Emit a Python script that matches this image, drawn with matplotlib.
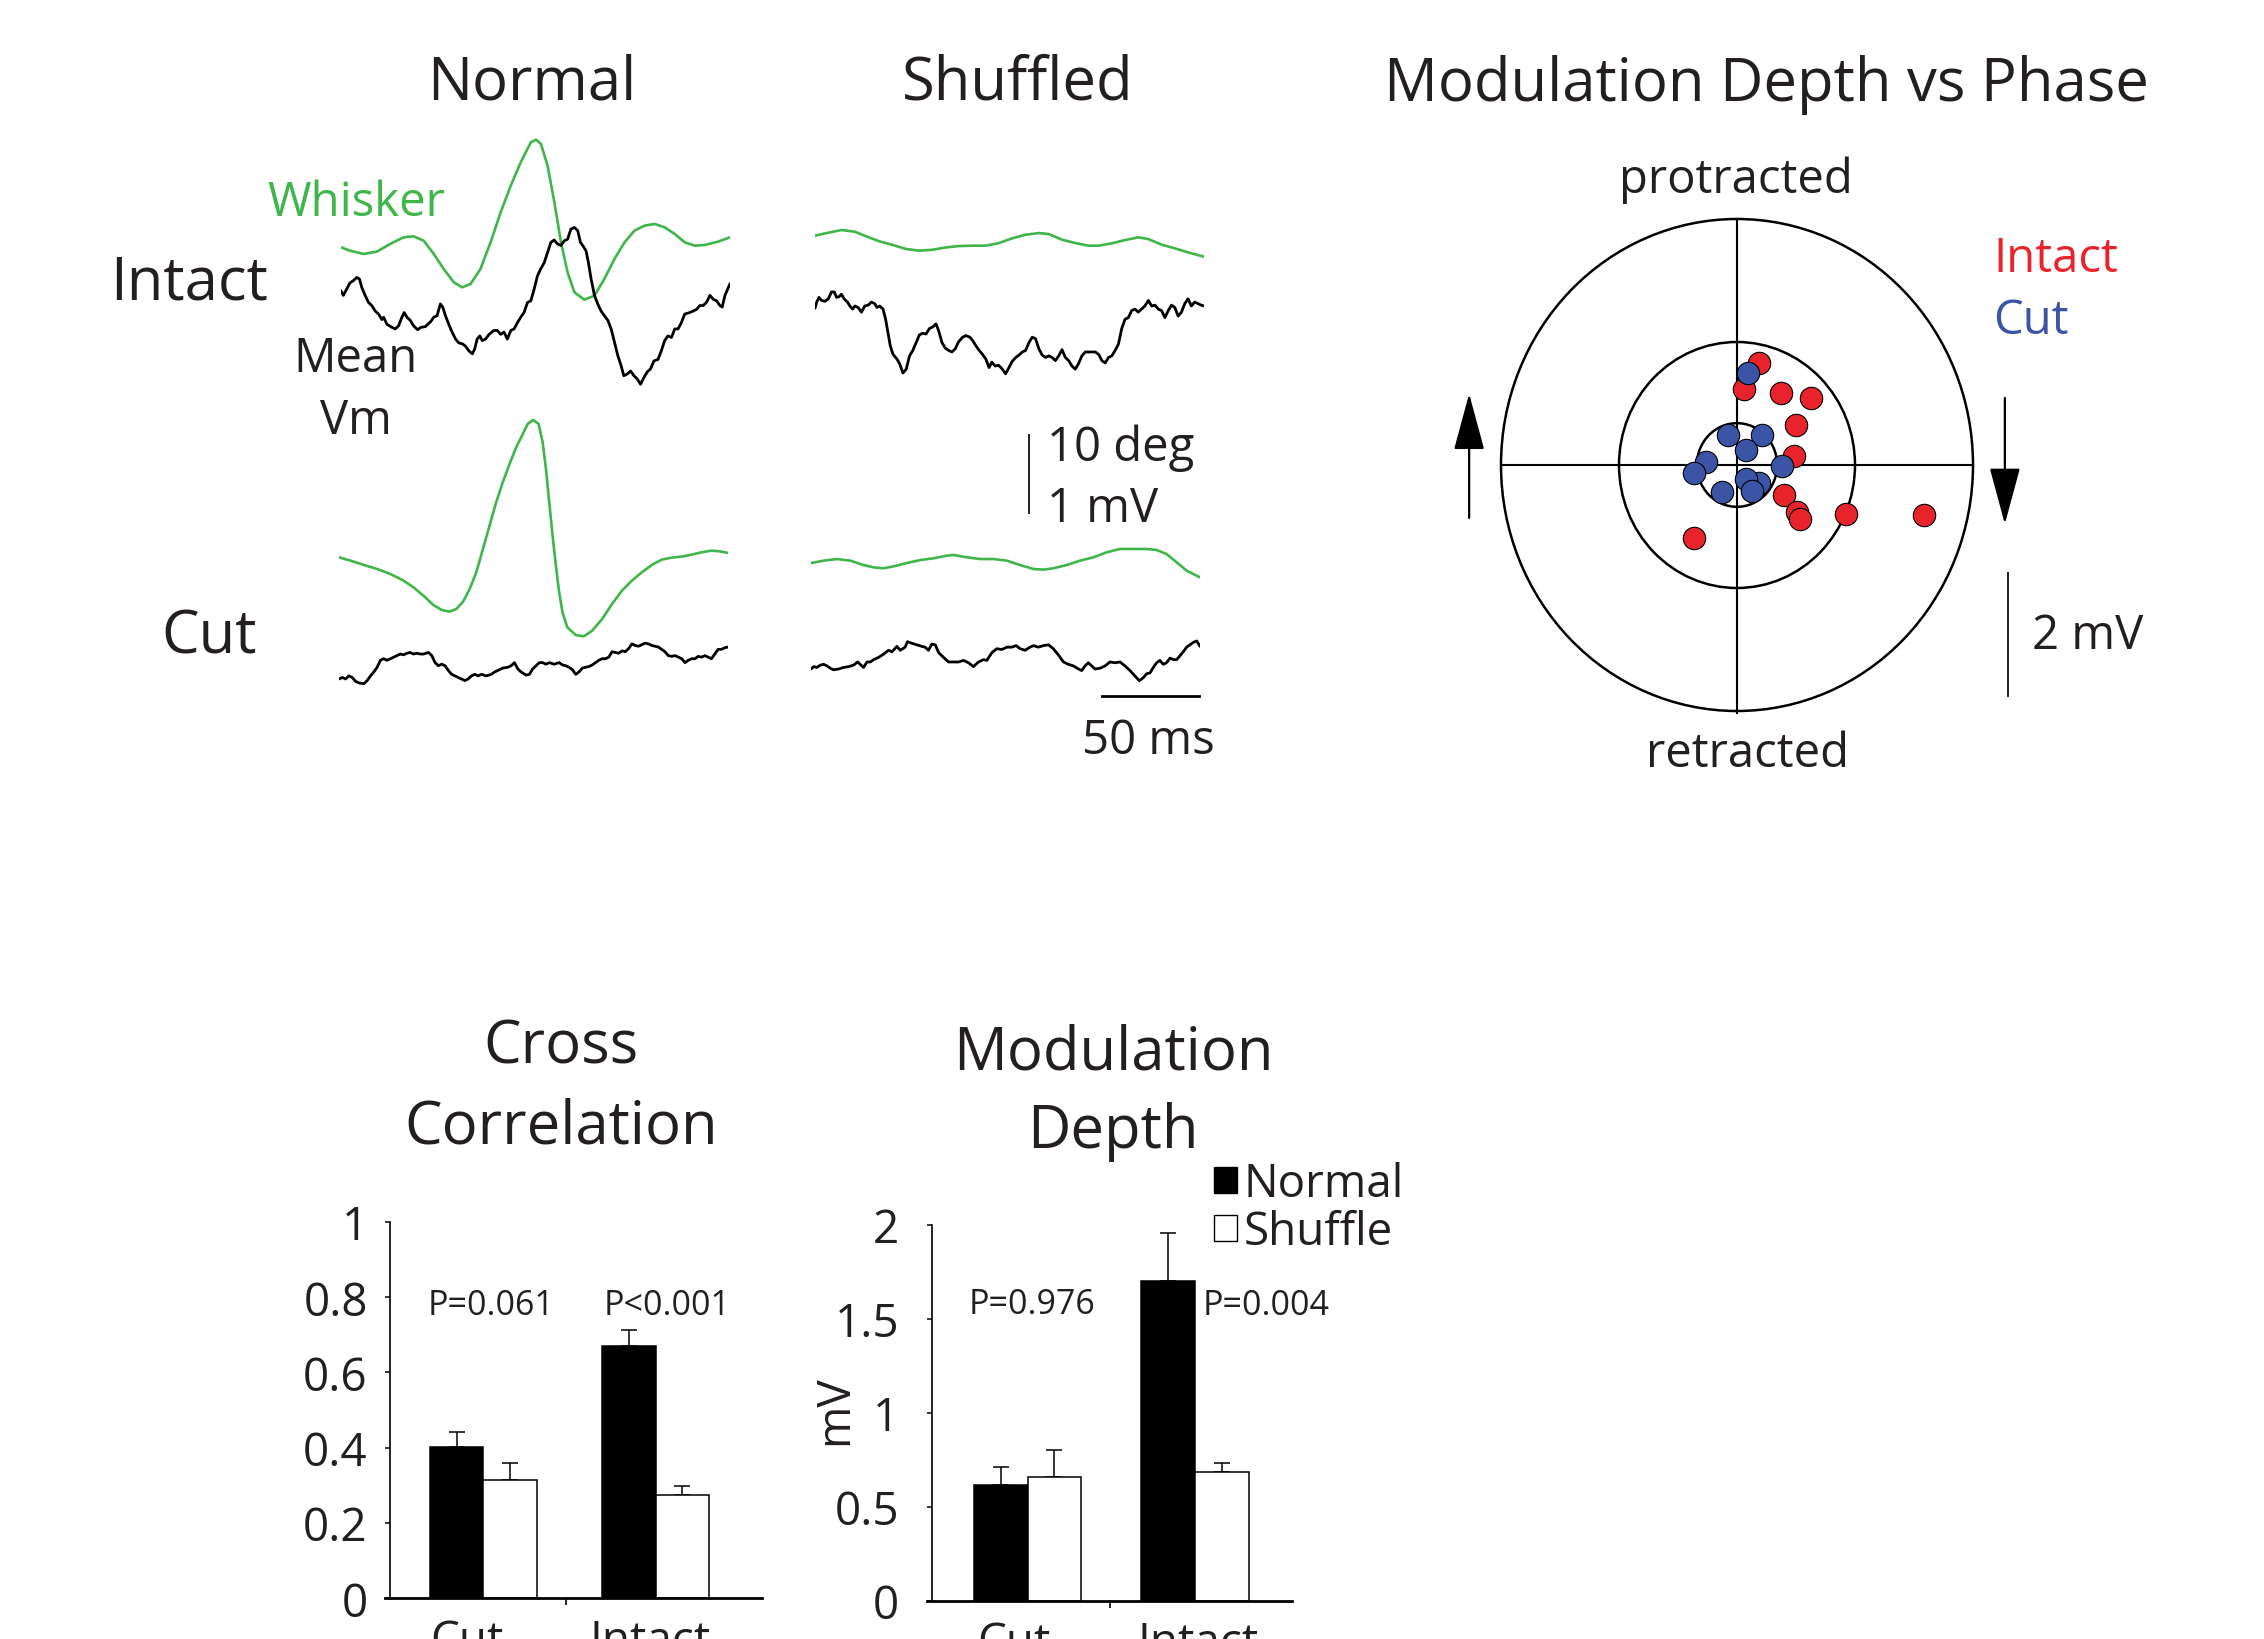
import numpy as np
import matplotlib
matplotlib.use('Agg')
import matplotlib.pyplot as plt
from matplotlib.patches import Circle, Patch

plt.rcParams['font.family'] = ['Open Sans', 'DejaVu Sans']

# ------------------------------------------------------------------ data
# --- traces (time in ms, whisker angle in deg, membrane potential in mV)
intact_norm_whisk_t = [-100, -95.4, -88.5, -81.6, -74.7, -67.8, -62.7, -57.5, -52.3, -47.2,
                       -42.0, -37.7, -33.4, -28.3, -23.1, -17.9, -12.7, -7.6, -2.4, 0.2,
                       2.8, 6.2, 9.7, 13.1, 16.5, 20.0, 25.1, 30.3, 35.4, 40.6,
                       45.8, 50.9, 56.1, 61.3, 66.4, 71.6, 76.7, 81.9, 87.1, 93.9, 100]
intact_norm_whisk_deg = [0, -0.43, -0.85, -0.56, 0.43, 1.28, 1.41, 0.85, -0.85, -2.78,
                         -4.49, -5.13, -4.70, -2.78, 0.64, 4.49, 7.91, 10.9, 13.46, 13.8,
                         13.25, 10.47, 5.77, 0.64, -3.21, -5.77, -6.71, -6.20, -4.06, -1.50,
                         0.64, 2.14, 2.78, 2.99, 2.56, 1.71, 0.64, 0.21, 0.30, 0.73, 1.28]
intact_norm_vm_t = [-100.0, -98.8, -97.1, -95.4, -93.6, -91.9, -90.5, -89.3, -87.6, -85.9,
                    -84.2, -82.4, -80.7, -79.0, -78.1, -76.4, -73.8, -72.1, -70.4, -68.7,
                    -67.5, -66.1, -64.4, -62.7, -60.6, -58.9, -56.6, -54.0, -52.3, -50.6,
                    -48.9, -47.7, -46.3, -44.6, -42.9, -41.1, -39.4, -37.7, -36.0, -34.3,
                    -32.5, -31.3, -30.0, -28.6, -27.4, -25.7, -23.9, -21.4, -19.6, -17.9,
                    -16.2, -14.5, -12.7, -11.0, -9.3, -7.6, -5.9, -4.1, -2.4, -0.7,
                    1.0, 2.7, 4.5, 6.2, 7.9, 9.6, 11.3, 13.1, 14.8, 16.5,
                    18.2, 20.0, 21.7, 23.1, 24.8, 26.0, 27.2, 28.6, 30.3, 32.0,
                    33.7, 35.4, 37.2, 38.9, 40.6, 42.3, 44.0, 45.4, 47.1, 48.9,
                    50.6, 52.3, 54.0, 55.8, 57.5, 59.2, 60.9, 63.0, 64.7, 66.4,
                    68.1, 69.9, 71.6, 73.3, 75.0, 76.7, 79.3, 81.1, 82.8, 84.5,
                    86.2, 87.9, 89.7, 91.4, 93.1, 94.8, 96.0, 97.4, 98.8, 100.0]
intact_norm_vm_mv = [0, -0.06, 0.02, 0.10, 0.13, 0.17, 0.15, 0.04, -0.06, -0.15,
                     -0.19, -0.26, -0.30, -0.37, -0.34, -0.43, -0.47, -0.49, -0.45, -0.34,
                     -0.28, -0.34, -0.38, -0.45, -0.50, -0.47, -0.46, -0.40, -0.34, -0.32,
                     -0.17, -0.21, -0.32, -0.43, -0.53, -0.62, -0.67, -0.68, -0.71, -0.77,
                     -0.81, -0.75, -0.62, -0.58, -0.64, -0.62, -0.56, -0.51, -0.51, -0.56,
                     -0.53, -0.62, -0.51, -0.49, -0.41, -0.34, -0.28, -0.15, -0.13, 0.02,
                     0.19, 0.28, 0.36, 0.49, 0.62, 0.65, 0.60, 0.58, 0.64, 0.66,
                     0.79, 0.81, 0.77, 0.62, 0.56, 0.51, 0.36, 0.15, -0.06, -0.17,
                     -0.26, -0.32, -0.38, -0.49, -0.66, -0.83, -0.96, -1.09, -1.07, -1.03,
                     -1.09, -1.13, -1.20, -1.11, -1.04, -1.00, -0.90, -0.88, -0.77, -0.64,
                     -0.58, -0.60, -0.49, -0.49, -0.41, -0.30, -0.28, -0.26, -0.24, -0.19,
                     -0.19, -0.15, -0.06, -0.11, -0.13, -0.19, -0.21, -0.06, 0.02, 0.09]

intact_shuf_whisk_t = [-100, -94.0, -86.4, -79.5, -73.6, -66.8, -59.9, -53.1, -46.3, -39.5,
                       -32.7, -25.8, -19.0, -12.2, -5.4, 1.4, 8.3, 15.1, 20.2, 27.0,
                       33.8, 40.7, 45.8, 52.6, 59.4, 66.2, 71.4, 78.2, 85.0, 91.8, 100]
intact_shuf_whisk_deg = [0, 0.34, 0.73, 0.51, -0.09, -0.73, -1.20, -1.71, -1.92, -1.80,
                         -1.50, -1.32, -1.28, -1.28, -0.94, -0.34, 0.13, 0.34, 0.21, -0.51,
                         -0.94, -1.28, -1.28, -0.98, -0.56, -0.21, -0.43, -1.15, -1.62, -2.14, -2.69]
intact_shuf_vm_t = [-100.0, -99.1, -98.0, -96.6, -94.9, -93.2, -91.5, -90.1, -88.9, -87.6,
                    -86.4, -85.0, -83.3, -82.1, -80.7, -79.5, -77.8, -76.1, -74.4, -72.7,
                    -71.0, -69.3, -68.1, -66.8, -65.0, -63.7, -62.5, -61.3, -59.9, -57.9,
                    -56.5, -54.8, -53.1, -51.4, -49.7, -48.0, -46.3, -44.6, -42.9, -41.2,
                    -39.5, -37.8, -36.4, -34.7, -33.0, -31.3, -29.6, -27.9, -26.2, -24.1,
                    -22.4, -20.4, -19.0, -17.3, -15.6, -13.9, -12.2, -10.5, -9.1, -7.4,
                    -5.7, -4.0, -2.0, -0.3, 1.4, 3.2, 4.9, 6.6, 8.3, 10.0,
                    11.7, 13.4, 15.1, 16.8, 18.5, 20.2, 21.9, 23.6, 25.3, 27.0,
                    28.7, 30.4, 32.1, 33.8, 35.5, 37.2, 39.0, 41.5, 44.1, 45.8,
                    47.5, 49.2, 50.9, 52.6, 54.3, 56.0, 57.7, 59.4, 61.1, 62.8,
                    64.5, 66.2, 67.9, 69.6, 71.4, 73.1, 74.8, 76.5, 78.2, 79.9,
                    81.6, 83.3, 85.0, 86.7, 88.4, 90.1, 91.8, 93.5, 95.2, 96.9,
                    98.6, 100.0]
intact_shuf_vm_mv = [0, 0.08, 0.14, 0.10, 0.09, 0.12, 0.21, 0.21, 0.14, 0.15,
                     0.18, 0.12, 0.08, 0.03, -0.01, 0.03, 0.01, -0.05, 0.03, 0.04,
                     0.08, 0.06, 0.01, 0.03, -0.01, -0.14, -0.31, -0.48, -0.59, -0.65,
                     -0.71, -0.83, -0.78, -0.61, -0.54, -0.44, -0.34, -0.32, -0.33, -0.26,
                     -0.24, -0.20, -0.29, -0.44, -0.51, -0.54, -0.56, -0.52, -0.43, -0.37,
                     -0.35, -0.37, -0.41, -0.48, -0.54, -0.59, -0.65, -0.76, -0.69, -0.74,
                     -0.73, -0.77, -0.84, -0.76, -0.68, -0.63, -0.60, -0.56, -0.54, -0.44,
                     -0.37, -0.39, -0.52, -0.60, -0.63, -0.61, -0.63, -0.67, -0.61, -0.53,
                     -0.63, -0.67, -0.74, -0.78, -0.71, -0.61, -0.56, -0.56, -0.56, -0.59,
                     -0.67, -0.70, -0.63, -0.61, -0.54, -0.46, -0.26, -0.14, -0.12, -0.03,
                     -0.01, -0.05, -0.01, 0.03, 0.10, 0.03, 0.04, -0.01, -0.03, -0.12,
                     -0.03, 0.04, 0.01, -0.10, -0.05, 0.06, 0.12, 0.03, 0.08, 0.06,
                     0.04, 0.03]

cut_norm_whisk_t = [-100, -94.0, -87.2, -80.4, -73.6, -66.8, -61.7, -56.6, -51.5, -47.2,
                    -43.3, -39.6, -36.2, -32.8, -29.4, -26.0, -22.6, -19.2, -15.8, -12.3,
                    -8.9, -5.5, -3.0, -0.1, 2.6, 4.7, 6.4, 8.1, 9.8, 11.5,
                    13.2, 14.9, 17.4, 21.7, 25.9, 30.2, 35.3, 40.4, 45.5, 50.6,
                    55.7, 60.8, 65.9, 71.1, 76.2, 81.3, 86.4, 91.5, 95.7, 100]
cut_norm_whisk_deg = [0, -0.43, -0.98, -1.50, -2.14, -2.99, -3.85, -4.92, -6.11, -6.75,
                      -6.97, -6.62, -5.68, -4.06, -1.92, 1.07, 4.06, 7.05, 9.62, 11.97,
                      14.10, 15.81, 17.10, 17.61, 17.10, 14.75, 11.33, 7.05, 2.78, -1.07,
                      -4.49, -7.05, -8.98, -9.96, -10.13, -9.40, -7.91, -5.98, -4.27, -2.99,
                      -1.92, -0.98, -0.30, -0.04, 0.09, 0.34, 0.64, 0.85, 0.77, 0.56]
cut_norm_vm_t = [-100.0, -98.3, -96.6, -94.9, -93.2, -91.5, -89.8, -87.2, -85.5, -83.8,
                 -82.1, -80.4, -78.7, -77.0, -75.3, -73.6, -71.9, -70.2, -68.5, -66.8,
                 -65.1, -63.4, -61.7, -60.0, -58.3, -56.6, -54.0, -52.3, -50.6, -48.9,
                 -47.2, -45.5, -43.8, -42.1, -40.4, -37.9, -35.3, -33.6, -31.9, -30.2,
                 -28.5, -26.8, -24.3, -21.7, -20.0, -18.3, -15.8, -13.2, -11.5, -9.8,
                 -8.1, -6.4, -3.8, -2.1, -0.4, 1.3, 3.0, 4.7, 6.4, 8.1,
                 10.6, 13.2, 14.9, 16.6, 18.3, 20.0, 21.7, 23.4, 25.1, 26.8,
                 28.5, 30.2, 31.9, 33.6, 35.3, 37.0, 38.7, 40.4, 42.1, 43.8,
                 45.5, 47.2, 48.9, 50.6, 52.3, 54.0, 55.7, 57.4, 59.1, 60.8,
                 62.5, 64.2, 65.9, 67.6, 69.3, 71.1, 72.8, 74.5, 76.2, 77.9,
                 79.6, 81.3, 83.0, 84.7, 86.4, 88.1, 89.8, 91.5, 93.2, 94.9,
                 96.6, 98.3, 100.0]
cut_norm_vm_mv = [0, 0.02, 0, 0.04, 0.02, -0.03, -0.05, -0.06, -0.02, 0.04,
                  0.09, 0.15, 0.24, 0.26, 0.24, 0.26, 0.28, 0.30, 0.32, 0.31,
                  0.33, 0.34, 0.32, 0.33, 0.32, 0.32, 0.34, 0.30, 0.21, 0.17,
                  0.19, 0.17, 0.11, 0.06, 0.04, 0.01, -0.02, 0, 0.04, 0.06,
                  0.04, 0.06, 0.04, 0.06, 0.09, 0.11, 0.14, 0.15, 0.17, 0.21,
                  0.13, 0.09, 0.05, 0.06, 0.13, 0.17, 0.21, 0.21, 0.19, 0.21,
                  0.19, 0.21, 0.18, 0.17, 0.15, 0.12, 0.06, 0.09, 0.14, 0.15,
                  0.16, 0.18, 0.21, 0.24, 0.26, 0.26, 0.28, 0.35, 0.34, 0.33,
                  0.36, 0.35, 0.39, 0.45, 0.43, 0.42, 0.44, 0.46, 0.45, 0.43,
                  0.42, 0.41, 0.38, 0.35, 0.30, 0.29, 0.30, 0.28, 0.26, 0.21,
                  0.24, 0.26, 0.26, 0.29, 0.28, 0.30, 0.28, 0.26, 0.32, 0.38,
                  0.38, 0.40, 0.41]

cut_shuf_whisk_t = [-100, -93.5, -86.6, -79.8, -73.0, -67.8, -62.7, -57.5, -50.7, -43.8,
                    -37.0, -30.2, -26.7, -19.9, -13.0, -6.2, 0.7, 7.5, 14.4, 19.5,
                    24.6, 31.5, 38.3, 45.2, 52.0, 58.9, 65.7, 72.6, 77.7, 82.8,
                    88.0, 93.1, 100]
cut_shuf_whisk_deg = [0, 0.30, 0.51, 0.30, -0.26, -0.56, -0.68, -0.43, 0, 0.38,
                      0.60, 0.94, 1.03, 0.73, 0.51, 0.51, 0.30, -0.26, -0.77, -0.85,
                      -0.68, -0.26, 0.30, 0.73, 1.37, 1.80, 1.80, 1.80, 1.67, 1.15,
                      0.09, -0.98, -1.84]
cut_shuf_vm_t = [-100.0, -98.6, -96.9, -95.2, -93.5, -91.8, -90.1, -88.4, -85.8, -83.2,
                 -80.7, -78.1, -76.0, -74.7, -73.0, -71.2, -69.5, -67.8, -65.2, -62.7,
                 -60.1, -58.4, -55.8, -54.1, -51.6, -50.4, -48.2, -45.6, -43.0, -41.3,
                 -39.6, -37.9, -36.1, -34.4, -31.9, -29.3, -26.7, -24.2, -21.6, -19.0,
                 -16.5, -13.9, -11.3, -9.6, -7.0, -4.5, -1.9, 0.7, 3.2, 5.5,
                 7.5, 10.1, 12.6, 14.4, 16.9, 19.5, 22.1, 24.6, 27.2, 29.8,
                 32.3, 34.9, 37.5, 39.2, 40.9, 42.6, 44.3, 46.0, 48.6, 51.2,
                 53.7, 56.3, 58.9, 61.4, 64.0, 66.6, 68.8, 70.9, 72.6, 74.3,
                 76.0, 77.7, 79.4, 81.1, 82.8, 84.6, 86.3, 88.0, 89.7, 91.4,
                 93.1, 94.8, 96.5, 98.3, 100.0]
cut_shuf_vm_mv = [0, 0.03, 0.02, 0.05, 0.06, 0.04, 0.01, -0.01, 0, 0.02,
                  0.03, 0.05, 0.09, 0.06, 0.02, 0.09, 0.09, 0.12, 0.15, 0.19,
                  0.24, 0.22, 0.29, 0.24, 0.28, 0.35, 0.33, 0.31, 0.29, 0.28,
                  0.24, 0.32, 0.31, 0.21, 0.15, 0.09, 0.09, 0.09, 0.11, 0.08,
                  0.03, 0.09, 0.12, 0.11, 0.21, 0.26, 0.25, 0.28, 0.28, 0.30,
                  0.26, 0.24, 0.28, 0.30, 0.28, 0.30, 0.31, 0.26, 0.18, 0.09,
                  0.06, 0.04, 0, -0.02, 0.04, 0.08, 0.04, 0, 0.01, 0.04,
                  0.09, 0.08, 0.09, 0.04, -0.02, -0.09, -0.15, -0.11, -0.06, -0.05,
                  0.02, 0.08, 0.11, 0.06, 0.08, 0.14, 0.12, 0.12, 0.17, 0.22,
                  0.28, 0.31, 0.34, 0.36, 0.29]

# --- modulation depth vs phase (x / y components, mV)
intact_x_mv = [0.38, 0.12, 0.74, 1.25, 1.00, 0.96, 0.80, 1.01, 1.07, 1.85, 3.17, -0.73]
intact_y_mv = [1.66, 1.23, 1.17, 1.09, 0.65, 0.15, -0.48, -0.76, -0.88, -0.80, -0.81, -1.18]
cut_x_mv = [0.18, -0.15, 0.42, 0.16, -0.52, -0.73, 0.76, 0.37, 0.16, 0.26, -0.25]
cut_y_mv = [1.49, 0.48, 0.48, 0.24, 0.05, -0.13, -0.02, -0.29, -0.22, -0.43, -0.44]
ring_radii_mv = [0.68, 2.0, 4.0]

# --- bar charts
groups = ['Cut', 'Intact']
cc_normal = [0.401, 0.671]
cc_normal_err = [0.040, 0.041]
cc_shuffle = [0.315, 0.273]
cc_shuffle_err = [0.043, 0.024]
cc_pvals = ['P=0.061', 'P<0.001']
cc_yticks = [0, 0.2, 0.4, 0.6, 0.8, 1]
cc_yticklabels = ['0', '0.2', '0.4', '0.6', '0.8', '1']

md_normal = [0.616, 1.700]
md_normal_err = [0.094, 0.257]
md_shuffle = [0.657, 0.683]
md_shuffle_err = [0.145, 0.050]
md_pvals = ['P=0.976', 'P=0.004']
md_yticks = [0, 0.5, 1, 1.5, 2]
md_yticklabels = ['0', '0.5', '1', '1.5', '2']

# ------------------------------------------------------------------ figure
W, H = 2264, 1640
fig = plt.figure(figsize=(W / 100, H / 100), dpi=100)
TXT = '#231f20'
GREEN = '#3fb54a'
RED = '#e8232b'
BLUE = '#3b54a5'

BIG = 43
MED = 34
TICK = 33
PSIZE = 24.5


def fx(x):
    return x / W


def fy(y):
    return 1 - y / H


def label(x, y, s, size, ha='center', color=TXT, **kw):
    fig.text(fx(x), fy(y), s, fontsize=size, ha=ha, va='baseline', color=color, **kw)


def px_axes(left, top, width, height):
    ax = fig.add_axes([fx(left), fy(top + height), width / W, height / H])
    ax.patch.set_alpha(0)
    return ax


PX_PER_MV = 78.0            # 1 mV  (scale bar)
PX_PER_DEG = PX_PER_MV / 10  # 10 deg (same scale bar)
TRACE_W = 389.0             # 200 ms


def trace(left, zero_y, t, v, px_per_unit, color, lw):
    half = 230
    ax = px_axes(left, zero_y - half, TRACE_W, 2 * half)
    ax.set_xlim(-100, 100)
    ax.set_ylim(-half / px_per_unit, half / px_per_unit)
    ax.plot(t, v, color=color, lw=lw, solid_joinstyle='round', solid_capstyle='round')
    ax.axis('off')
    return ax


GLW, KLW = 1.9, 2.0
trace(341, 248.3, intact_norm_whisk_t, intact_norm_whisk_deg, PX_PER_DEG, GREEN, GLW)
trace(341, 291.7, intact_norm_vm_t, intact_norm_vm_mv, PX_PER_MV, 'black', KLW)
trace(815, 236.7, intact_shuf_whisk_t, intact_shuf_whisk_deg, PX_PER_DEG, GREEN, GLW)
trace(815, 309.3, intact_shuf_vm_t, intact_shuf_vm_mv, PX_PER_MV, 'black', KLW)
trace(339, 558.3, cut_norm_whisk_t, cut_norm_whisk_deg, PX_PER_DEG, GREEN, GLW)
trace(339, 680.0, cut_norm_vm_t, cut_norm_vm_mv, PX_PER_MV, 'black', KLW)
trace(811, 564.0, cut_shuf_whisk_t, cut_shuf_whisk_deg, PX_PER_DEG, GREEN, GLW)
trace(811, 670.0, cut_shuf_vm_t, cut_shuf_vm_mv, PX_PER_MV, 'black', KLW)

# scale bars (1 mV / 10 deg vertical, 50 ms horizontal)
sb = trace(815, 514, [], [], PX_PER_MV, 'black', 1)
sb.plot([10.0, 10.0], [0, 1], color=TXT, lw=1.4)
sb.plot([47.4, 97.4], [-2.34, -2.34], color='black', lw=2.0)

label(532, 99, 'Normal', BIG)
label(1018, 99, 'Shuffled', BIG)
label(445, 216.5, 'Whisker', MED, ha='right', color=GREEN)
label(189, 300, 'Intact', BIG)
label(356, 372.5, 'Mean', MED)
label(356, 434, 'Vm', MED)
label(209, 653, 'Cut', BIG)
label(1047, 461, '10 deg', MED, ha='left')
label(1047, 522, '1 mV', MED, ha='left')
label(1148, 754, '50 ms', MED)

# ------------------------------------------------------------------ polar-like panel
PCX, PCY = 1737, 466
PSX, PSY = 59.0, 61.5   # px per mV
SPAN = 5
pax = px_axes(PCX - SPAN * PSX, PCY - SPAN * PSY, 2 * SPAN * PSX, 2 * SPAN * PSY)
pax.set_xlim(-SPAN, SPAN)
pax.set_ylim(-SPAN, SPAN)
pax.axis('off')
for r in ring_radii_mv:
    pax.add_patch(Circle((0, 0), r, fill=False, ec='black', lw=1.8, zorder=1))
R = max(ring_radii_mv)
pax.plot([-R, R], [0, 0], color='black', lw=1.5, zorder=1)
pax.plot([0, 0], [-R - 0.03, R], color='black', lw=1.5, zorder=1)
pax.scatter(intact_x_mv, intact_y_mv, s=260, c=RED, edgecolors='black', linewidths=0.8, zorder=3)
pax.scatter(cut_x_mv, cut_y_mv, s=260, c=BLUE, edgecolors='black', linewidths=0.8, zorder=4)
arrow = dict(arrowstyle='-|>,head_length=1.0,head_width=0.27', mutation_scale=36,
             lw=1.6, color='black', shrinkA=0, shrinkB=0)
pax.annotate('', xy=(-4.54, 1.16), xytext=(-4.54, -0.86), arrowprops=arrow)
pax.annotate('', xy=(4.54, -0.96), xytext=(4.54, 1.09), arrowprops=arrow)
pax.plot([4.59, 4.59], [-3.76, -3.76 + 2], color=TXT, lw=1.4)

label(1766, 101, 'Modulation Depth vs Phase', BIG)
label(1736, 193.5, 'protracted', MED)
label(1748, 767, 'retracted', MED)
label(1993, 272, 'Intact', MED, ha='left', color=RED)
label(1993, 334.5, 'Cut', MED, ha='left', color=BLUE)
label(2032, 649.5, '2 mV', MED, ha='left')


# ------------------------------------------------------------------ bar charts
def bar_panel(axis_x, right, top, bottom, px_unit, spine_x, ymax, normal, nerr, shuffle, serr,
              yticks, yticklabels, sep, width, ypad, label_pos):
    left = axis_x - 5
    ax = px_axes(left, top, right - left, bottom - top)
    xlo = spine_x - 5 / px_unit
    ax.set_xlim(xlo, xlo + (right - left) / px_unit)
    ax.set_ylim(0, ymax)
    x = np.arange(len(groups))
    ax.bar(x - width / 2, normal, width, color='black', edgecolor='black', lw=1.1, zorder=2)
    ax.bar(x + width / 2, shuffle, width, color='white', edgecolor='black', lw=1.1, zorder=2)
    ax.errorbar(x - width / 2, normal, yerr=[np.zeros(len(groups)), nerr], fmt='none',
                ecolor='black', elinewidth=1.1, capsize=5.5, capthick=1.1, zorder=1)
    ax.errorbar(x + width / 2, shuffle, yerr=[np.zeros(len(groups)), serr], fmt='none',
                ecolor='black', elinewidth=1.1, capsize=5.5, capthick=1.1, zorder=1)
    for s in ('top', 'right'):
        ax.spines[s].set_visible(False)
    ax.spines['left'].set_position(('data', spine_x))
    ax.spines['left'].set_linewidth(1.2)
    ax.spines['bottom'].set_linewidth(2.0)
    ax.set_yticks(yticks)
    ax.set_yticklabels(yticklabels)
    ax.tick_params(axis='y', direction='out', length=3.6, width=1.1, pad=ypad,
                   labelsize=TICK, labelcolor=TXT)
    ax.set_xticks(label_pos)
    ax.set_xticklabels(groups)
    ax.tick_params(axis='x', which='major', length=0, pad=14, labelsize=TICK, labelcolor=TXT)
    ax.set_xticks([sep], minor=True)
    ax.tick_params(axis='x', which='minor', direction='out', length=5, width=1.2)
    return ax


bar_panel(389.5, 762, 1222.7, 1599.3, 172.3, -0.545, 1.0, cc_normal, cc_normal_err,
          cc_shuffle, cc_shuffle_err, cc_yticks, cc_yticklabels, 0.477, 0.311, 12,
          [-0.095, 0.97])
bar_panel(932.2, 1291.6, 1226, 1601.7, 167.2, -0.570, 2.0, md_normal, md_normal_err,
          md_shuffle, md_shuffle_err, md_yticks, md_yticklabels, 0.496, 0.322, 20,
          [-0.08, 1.02])

label(428, 1315, cc_pvals[0], PSIZE, ha='left')
label(604, 1315, cc_pvals[1], PSIZE, ha='left')
label(969, 1314, md_pvals[0], PSIZE, ha='left')
label(1203, 1315, md_pvals[1], PSIZE, ha='left')

label(561, 1064, 'Cross', BIG)
label(561, 1143.5, 'Correlation', BIG)
label(1113, 1069, 'Modulation', BIG)
label(1113, 1148, 'Depth', BIG)
fig.text(fx(835), fy(1410), 'mV', fontsize=TICK, rotation=90, ha='center', va='center', color=TXT)

handles = [Patch(facecolor='black', edgecolor='black'),
           Patch(facecolor='white', edgecolor='black', lw=1.0)]
fig.legend(handles, ['Normal', 'Shuffle'], loc='upper left',
           bbox_to_anchor=(fx(1214), fy(1162)), frameon=False, fontsize=33,
           handlelength=0.5, handleheight=0.5, handletextpad=0.15,
           labelspacing=0.05, borderpad=0, borderaxespad=0, labelcolor=TXT)

fig.savefig('out.png', dpi=100)
